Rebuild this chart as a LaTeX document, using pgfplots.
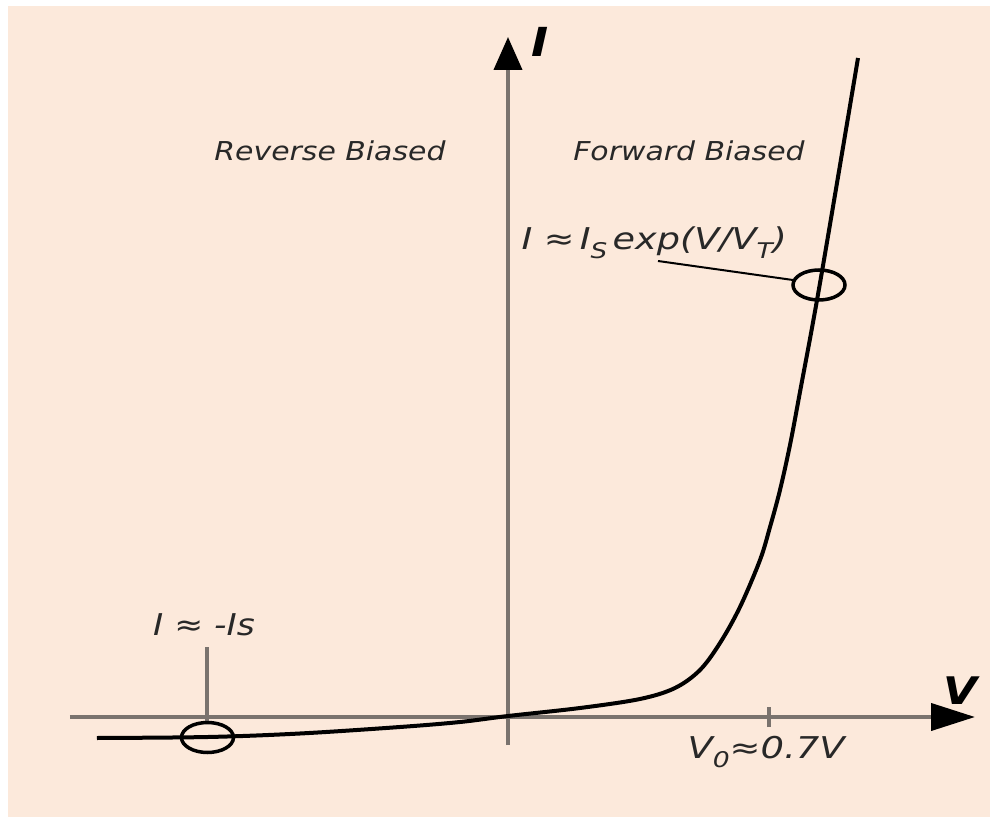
\documentclass[border=0pt]{standalone}
\usepackage{pgfplots}
\pgfplotsset{compat=1.18}
\usepackage{fontspec}
\usepackage{graphicx}
\usetikzlibrary{arrows.meta}
\setmainfont{DejaVu Sans}[FakeStretch=1.15]
\definecolor{peach}{RGB}{252,233,219}
\definecolor{axisgray}{RGB}{122,115,110}
\definecolor{ink}{RGB}{40,40,40}
% open ellipse used to ring the two operating regions
\pgfdeclareplotmark{ring}{%
  \pgfpathellipse{\pgfpointorigin}{\pgfpoint{26pt}{0pt}}{\pgfpoint{0pt}{15pt}}%
  \pgfusepathqstroke}
\newcommand\sub[1]{\raisebox{-0.3em}{\scalebox{0.72}{#1}}}
\tikzset{
  lbl/.style={text=ink, font=\fontsize{26}{30}\selectfont\itshape},
  big/.style={text=ink, font=\fontsize{30}{34}\selectfont\itshape},
}

\begin{document}
\begin{tikzpicture}
\path[use as bounding box] (-70pt,-72pt) rectangle (920pt,745pt);
\fill[white] (-70pt,-72pt) rectangle (920pt,745pt);
\fill[peach] (-62pt,-72pt) rectangle (920pt,739pt);
\begin{axis}[
  at={(0pt,0pt)}, anchor=south west,
  scale only axis, width=905pt, height=708pt,
  xmin=-1.1747, xmax=1.2525, ymin=-0.28, ymax=6.80,
  axis lines=middle,
  axis line style={axisgray, line width=4pt},
  x axis line style={-{Triangle[length=44pt,width=27pt,black]}},
  y axis line style={-{Triangle[length=33pt,width=28pt,black]}},
  xtick={0.7}, xticklabels={}, ytick=\empty,
  tick align=center, major tick length=20pt,
  tick style={axisgray, line width=4pt},
  clip=false,
]
% diode I-V characteristic
\addplot[black, line width=4pt, smooth, tension=0.55] coordinates {
  (-1.1023,-0.21) (-0.8046,-0.20) (-0.5579,-0.165) (-0.2897,-0.10)
  (-0.1287,-0.05) (0,0.01) (0.1931,0.09) (0.3540,0.18) (0.4479,0.29)
  (0.5149,0.47) (0.5686,0.74) (0.6222,1.10) (0.6759,1.57) (0.7027,1.90)
  (0.7295,2.27) (0.7563,2.72) (0.7831,3.25) (0.8368,4.34) (0.9387,6.59)
};
% rings on the saturation and exponential regions
\addplot[only marks, mark=ring, black, line width=3.5pt] coordinates {
  (-0.806,-0.205) (0.8341,4.32)
};
% leader lines
\draw[black, line width=2pt] (axis cs:0.4023,4.56) -- (axis cs:0.764,4.37);
\draw[axisgray, line width=3.5pt] (axis cs:-0.8073,0.70) -- (axis cs:-0.8073,-0.05);

\node[lbl] at (axis cs:-0.4774,5.66) {Reverse Biased};
\node[lbl] at (axis cs:0.4854,5.66) {Forward Biased};
\node[big, anchor=base west] at (axis cs:0.0268,4.67)
  {\scalebox{1.06}[1]{I ≈\,I\sub{S}\,exp(V/V\sub{T})}};
\node[big, anchor=base] at (axis cs:-0.8153,0.82) {I ≈ -Is};
\node[big, anchor=base west] at (axis cs:0.4720,-0.41)
  {\scalebox{1.07}[1]{V\sub{0}≈0.7V}};
\node[text=black, font=\fontsize{40}{44}\selectfont\bfseries\itshape] at (axis cs:0.0858,6.75) {I};
\node[text=black, font=\fontsize{38}{42}\selectfont\bfseries\itshape] at (axis cs:1.2123,0.26) {V};
\end{axis}
\end{tikzpicture}
\end{document}
